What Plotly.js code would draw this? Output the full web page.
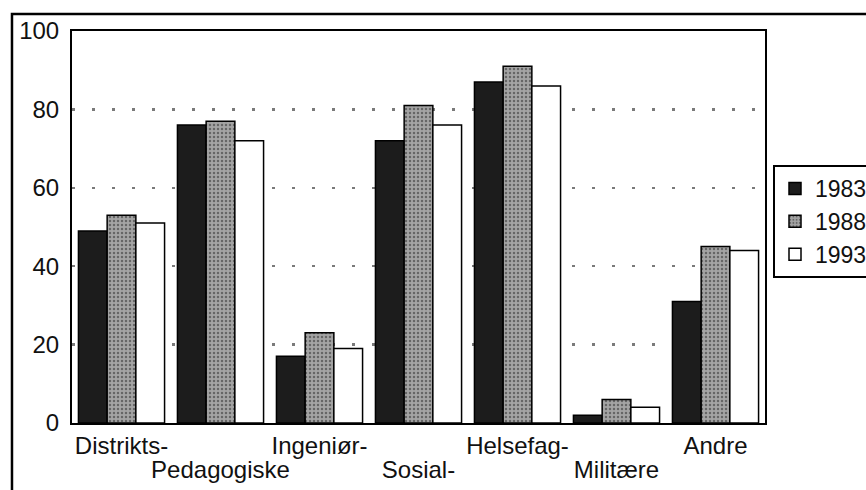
<!DOCTYPE html>
<html>
<head>
<meta charset="utf-8">
<script src="https://cdn.plot.ly/plotly-3.0.1.min.js"></script>
<style>
  html, body { margin: 0; padding: 0; background: #fff; }
  #chart { width: 866px; height: 490px; }
</style>
</head>
<body>
<div id="chart"></div>
<script>
// Categories; labels are staggered on two rows as in the original
const categories = ["Distrikts-", "Pedagogiske", "Ingeniør-", "Sosial-", "Helsefag-", "Militære", "Andre"];
const years = ["1983", "1988", "1993"];
const values1983 = [49, 76, 17, 72, 87, 2, 31];
const values1988 = [53, 77, 23, 81, 91, 6, 45];
const values1993 = [51, 72, 19, 76, 86, 4, 44];
const yTicks = [0, 20, 40, 60, 80, 100];

const row1Idx = categories.map((c, i) => i).filter(i => i % 2 === 0);
const row2Idx = categories.map((c, i) => i).filter(i => i % 2 === 1);

const FONT = "Liberation Sans, Arial, Helvetica, sans-serif";
const FS = 24;

const traces = [
  {
    type: "bar", name: years[0], x: categories, y: values1983,
    marker: { color: "#1c1c1c", line: { color: "#000", width: 1.5 } }
  },
  {
    type: "bar", name: years[1], x: categories, y: values1988,
    marker: {
      color: "#a0a0a0",
      line: { color: "#000", width: 1.5 },
      pattern: { shape: ".", fgcolor: "#666", bgcolor: "#a4a4a4", size: 4, solidity: 0.3 }
    }
  },
  {
    type: "bar", name: years[2], x: categories, y: values1993,
    marker: { color: "#ffffff", line: { color: "#000", width: 1.5 } }
  },
  // invisible carrier so that the second row of category labels (xaxis2) is drawn
  {
    type: "scatter", mode: "markers", xaxis: "x2", yaxis: "y",
    x: row2Idx, y: row2Idx.map(() => 0),
    marker: { opacity: 0, size: 1 }, showlegend: false, hoverinfo: "skip"
  }
];

const layout = {
  width: 866, height: 490,
  margin: { l: 72, r: 101, t: 31, b: 67, pad: 0, autoexpand: false },
  paper_bgcolor: "#fff", plot_bgcolor: "#fff",
  font: { family: FONT, size: FS, color: "#111" },
  barmode: "group",
  bargap: 0.13,
  bargroupgap: 0,
  showlegend: true,
  legend: {
    x: (773 - 72) / 693, y: (423 - 165) / 392, xanchor: "left", yanchor: "top",
    bgcolor: "#fff", bordercolor: "#000", borderwidth: 2,
    font: { family: FONT, size: 23, color: "#111" },
    itemwidth: 30, tracegroupgap: 0
  },
  xaxis: {
    type: "category",
    tickmode: "array",
    tickvals: row1Idx.map(i => categories[i]),
    ticktext: row1Idx.map(i => categories[i]),
    showline: true, linecolor: "#000", linewidth: 2, mirror: true,
    ticks: "", showgrid: false, zeroline: false,
    tickfont: { family: FONT, size: FS, color: "#111" },
    ticklabelstandoff: 0, tickangle: 0, fixedrange: true
  },
  xaxis2: {
    overlaying: "x", anchor: "y", side: "bottom",
    type: "linear", range: [-0.5, categories.length - 0.5],
    tickmode: "array",
    tickvals: row2Idx,
    ticktext: row2Idx.map(i => categories[i]),
    showline: false, showgrid: false, zeroline: false, ticks: "",
    tickfont: { family: FONT, size: FS, color: "#111" },
    ticklabelstandoff: 30, tickangle: 0, fixedrange: true
  },
  yaxis: {
    range: [0, 100],
    tickmode: "array", tickvals: yTicks, ticktext: yTicks.map(String),
    showline: true, linecolor: "#000", linewidth: 2, mirror: true,
    ticks: "", zeroline: false,
    showgrid: true, gridcolor: "#7a7a7a", gridwidth: 2.5, griddash: "3px,17px",
    tickfont: { family: FONT, size: FS, color: "#111" },
    ticklabelstandoff: 6, fixedrange: true
  },
  shapes: [
    {
      type: "rect", xref: "paper", yref: "paper",
      x0: -0.0866, x1: 1.3, y0: -0.3, y1: 1.0434,
      line: { color: "#000", width: 2.5 }, fillcolor: "rgba(0,0,0,0)", layer: "below"
    }
  ]
};

Plotly.newPlot("chart", traces, layout, { displayModeBar: false, staticPlot: true });
</script>
</body>
</html>
